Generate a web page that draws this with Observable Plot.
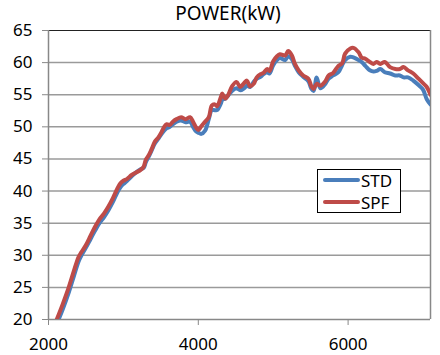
<!DOCTYPE html>
<html>
<head>
<meta charset="utf-8">
<script src="https://cdn.jsdelivr.net/npm/d3@7"></script>
<script src="https://cdn.jsdelivr.net/npm/@observablehq/plot@0.6"></script>
<style>
  body { margin: 0; background: #fff; font-family: "Noto Sans", sans-serif; }
  #wrap { position: relative; width: 440px; height: 355px; }
  #title { height: 16px; line-height: 26px; font-size: 19px; text-align: center; padding-left: 16px; color: #000; white-space: nowrap; }
  #legend { position: absolute; left: 317px; top: 169px; width: 82px; height: 42px; border: 1px solid #000; background: #fff; font-size: 17px; }
  .item { position: absolute; left: 5px; height: 20px; display: flex; align-items: center; }
  .sw { width: 37px; height: 4px; border-radius: 2px; margin-right: 1px; }
</style>
</head>
<body>
<div id="wrap">
  <div id="title">POWER(kW)</div>
  <div id="chart"></div>
  <div id="legend"></div>
</div>
<script>
const rpm = [2110,2190,2270,2340,2400,2440,2500,2560,2620,2680,2740,2800,2860,2920,2960,3000,3050,3110,3170,3230,3270,3300,3340,3380,3420,3470,3510,3550,3580,3620,3660,3710,3770,3830,3890,3930,3970,4000,4040,4090,4140,4180,4220,4250,4300,4320,4360,4400,4450,4510,4560,4610,4650,4690,4740,4780,4830,4870,4920,4950,5000,5050,5090,5160,5200,5250,5290,5340,5400,5470,5510,5540,5580,5630,5690,5740,5800,5870,5920,5960,6030,6070,6140,6180,6230,6290,6340,6380,6430,6490,6560,6630,6690,6740,6800,6870,6940,7000,7050,7100];
const spf = [20.0,22.4,25.0,27.6,29.7,30.5,31.6,33.0,34.4,35.6,36.5,37.6,38.9,40.4,41.2,41.6,41.9,42.5,42.9,43.3,43.8,44.9,45.6,46.6,47.7,48.4,49.2,50.1,50.4,50.3,50.8,51.2,51.5,51.2,51.5,50.8,49.9,49.5,50.1,50.8,51.5,53.3,53.5,53.2,54.6,55.2,54.4,55.0,56.3,57.0,56.2,56.8,57.2,56.3,56.7,57.7,58.2,58.4,59.0,58.7,60.2,61.0,61.3,61.1,61.8,61.1,59.8,58.8,58.0,57.5,56.3,55.9,56.7,56.4,57.0,58.0,58.4,59.5,59.9,61.4,62.2,62.3,61.6,60.8,60.6,60.1,59.8,60.1,59.8,60.1,59.3,59.0,59.0,59.3,58.8,58.3,57.5,56.8,56.2,55.0];
const std = [19.3,21.6,24.2,26.8,29.0,30.0,31.2,32.5,33.8,35.0,35.9,37.0,38.3,39.8,40.6,41.1,41.6,42.3,42.9,43.4,43.6,44.5,45.4,46.4,47.4,48.2,48.9,49.5,49.8,50.0,50.4,50.8,51.0,50.7,50.8,50.0,49.3,49.1,48.9,49.4,51.2,52.6,52.6,52.6,53.6,54.2,54.4,54.9,55.6,56.0,55.7,56.0,56.4,56.2,57.0,57.5,57.8,58.2,58.5,58.3,59.6,60.4,60.7,60.4,61.0,60.5,59.5,58.5,57.8,57.1,55.9,55.6,57.7,56.0,56.6,57.5,58.0,58.5,59.6,60.4,60.9,60.8,60.4,60.1,59.5,58.8,58.6,58.7,59.0,58.5,58.3,58.0,58.0,57.7,57.7,57.2,56.5,55.8,54.3,53.5];
const seriesNames = ["STD", "SPF"];
const seriesColors = ["#4a7ebb", "#be4b48"];
const yTicks = [20,25,30,35,40,45,50,55,60,65];
const xTicks = [2000,4000,6000];

const rows = [];
rpm.forEach((r, i) => {
  rows.push({rpm: r, kw: std[i], s: "STD"});
  rows.push({rpm: r, kw: spf[i], s: "SPF"});
});

const chart = Plot.plot({
  width: 440,
  height: 339,
  marginTop: 14,
  marginBottom: 36,
  marginLeft: 48,
  marginRight: 10,
  style: {fontFamily: "Noto Sans, sans-serif", fontSize: "17px", color: "#000", background: "transparent", overflow: "visible"},
  x: {domain: [2000, 7100], ticks: xTicks, tickFormat: d => String(d), tickSize: 6, tickPadding: 12, label: null},
  y: {domain: [20, 65], ticks: yTicks, tickSize: 6, tickPadding: 10, label: null},
  color: {domain: seriesNames, range: seriesColors},
  marks: [
    Plot.ruleY(yTicks.slice(1, -1), {stroke: "#9a9a9a", strokeWidth: 1.5}),
    Plot.ruleY([65], {stroke: "#222", strokeWidth: 1.2}),
    Plot.ruleY([20], {stroke: "#888", strokeWidth: 1.5}),
    Plot.ruleX([2000], {stroke: "#888", strokeWidth: 1.5}),
    Plot.ruleX([7100], {stroke: "#888", strokeWidth: 1.5}),
    Plot.lineY(rows.filter(d => d.s === "STD"), {x: "rpm", y: "kw", stroke: "s", strokeWidth: 4, curve: "catmull-rom", clip: true}),
    Plot.lineY(rows.filter(d => d.s === "SPF"), {x: "rpm", y: "kw", stroke: "s", strokeWidth: 4, curve: "catmull-rom", clip: true}),
    Plot.axisX({ticks: xTicks, tickSize: 6, tickPadding: 12, stroke: "#888", tickFormat: d => String(d)}),
    Plot.axisY({ticks: yTicks, tickSize: 6, tickPadding: 10, stroke: "#888"})
  ]
});
document.getElementById("chart").appendChild(chart);

const legend = document.getElementById("legend");
seriesNames.forEach((n, i) => {
  const it = document.createElement("div");
  it.className = "item";
  it.style.top = (i * 22) + "px";
  const sw = document.createElement("div");
  sw.className = "sw";
  sw.style.background = seriesColors[i];
  const t = document.createElement("span");
  t.textContent = n;
  it.appendChild(sw);
  it.appendChild(t);
  legend.appendChild(it);
});
</script>
</body>
</html>
